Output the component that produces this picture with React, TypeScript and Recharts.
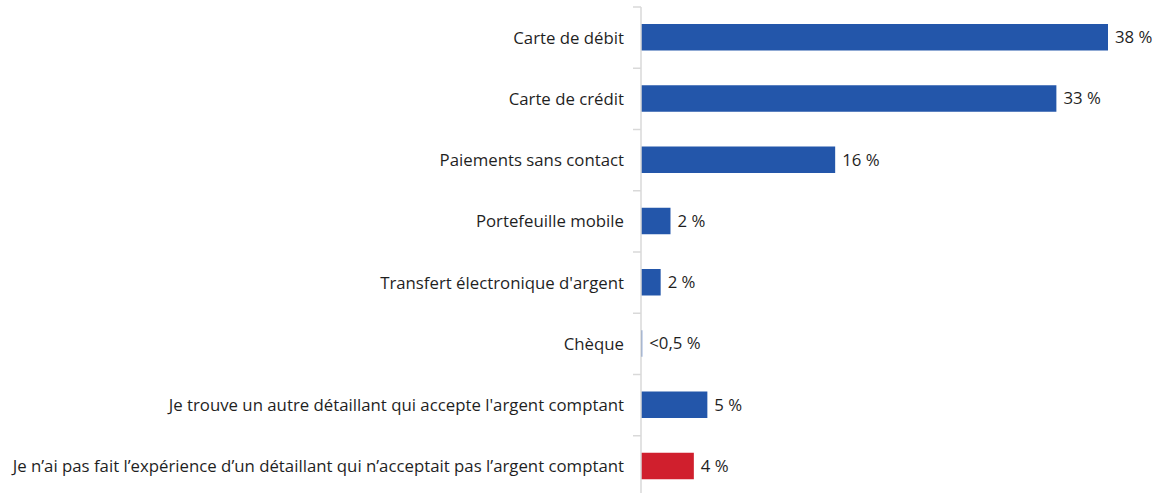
import React from "react";
import { BarChart, Bar, XAxis, YAxis, Cell, LabelList } from "recharts";

const categories = [
  "Carte de débit",
  "Carte de crédit",
  "Paiements sans contact",
  "Portefeuille mobile",
  "Transfert électronique d'argent",
  "Chèque",
  "Je trouve un autre détaillant qui accepte l'argent comptant",
  "Je n’ai pas fait l’expérience d’un détaillant qui n’acceptait pas l’argent comptant",
];
const values = [38, 33.8, 15.8, 2.4, 1.6, 0.1, 5.4, 4.3];
const valueLabels = ["38 %", "33 %", "16 %", "2 %", "2 %", "<0,5 %", "5 %", "4 %"];
const colors = ["#2356aa", "#2356aa", "#2356aa", "#2356aa", "#2356aa", "#2356aa", "#2356aa", "#d01f2d"];

const data = categories.map((c, i) => ({ name: c, value: values[i], label: valueLabels[i] }));

const FONT = "'Open Sans', sans-serif";
const FONT_SIZE = 16.8;
const CHART_W = 1163;
const CHART_H = 497;
const MARGIN = { top: 7, right: 55, bottom: 0, left: 0 };
const TICK_SIZE = 6;
const TICK_MARGIN = 11;
const TICK_MARK = 8;
const TEXT_COLOR = "#1f1f1f";
const AXIS_COLOR = "#d9d9d9";

function CatTick(props: any) {
  const { x, y, payload, index, visibleTicksCount } = props;
  const axisX = x + TICK_SIZE + TICK_MARGIN;
  const fallbackHalf = (CHART_H - MARGIN.top - MARGIN.bottom) / categories.length / 2;
  const half = payload && typeof payload.offset === "number" && payload.offset > 0 ? payload.offset : fallbackHalf;
  const last = index === (visibleTicksCount ?? categories.length) - 1;
  return (
    <g>
      <line x1={axisX - TICK_MARK} x2={axisX} y1={y - half} y2={y - half} stroke={AXIS_COLOR} strokeWidth={1.5} />
      {last && (
        <line x1={axisX - TICK_MARK} x2={axisX} y1={y + half} y2={y + half} stroke={AXIS_COLOR} strokeWidth={1.5} />
      )}
      <text x={x} y={y} dy="0.355em" textAnchor="end" fill={TEXT_COLOR} fontSize={FONT_SIZE} fontFamily={FONT}>
        {payload.value}
      </text>
    </g>
  );
}

export default function App() {
  return (
    <div style={{ position: "absolute", left: 0, top: 0, width: CHART_W, height: 493, overflow: "hidden", background: "#fff" }}>
      <BarChart
        width={CHART_W}
        height={CHART_H}
        data={data}
        layout="vertical"
        margin={MARGIN}
        barSize={26.5}
      >
        <XAxis type="number" hide domain={[0, 38]} allowDataOverflow />
        <YAxis
          type="category"
          dataKey="name"
          width={641}
          axisLine={{ stroke: AXIS_COLOR, strokeWidth: 1.5 }}
          tickLine={false}
          tickSize={TICK_SIZE}
          tickMargin={TICK_MARGIN}
          interval={0}
          tick={<CatTick />}
        />
        <Bar dataKey="value" isAnimationActive={false}>
          {data.map((d, i) => (
            <Cell key={i} fill={colors[i]} />
          ))}
          <LabelList
            dataKey="label"
            position="right"
            offset={7}
            style={{ fill: TEXT_COLOR, fontSize: FONT_SIZE, fontFamily: FONT }}
          />
        </Bar>
      </BarChart>
    </div>
  );
}
